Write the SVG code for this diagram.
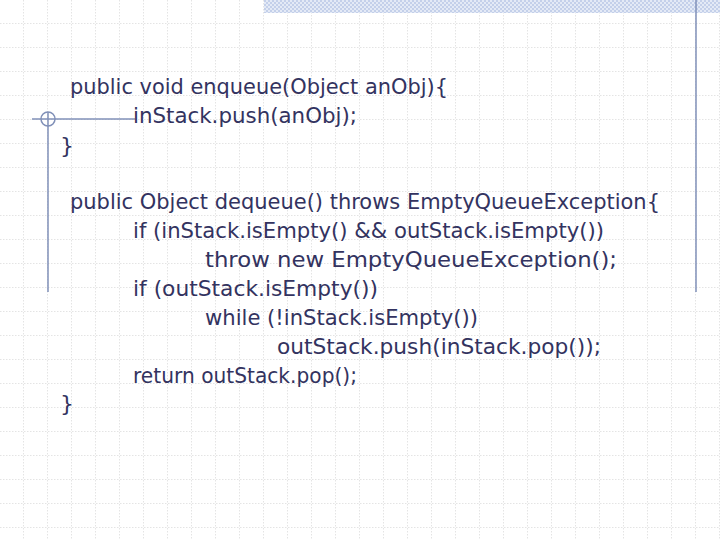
<svg xmlns="http://www.w3.org/2000/svg" width="720" height="540" viewBox="0 0 720 540">
<defs>
<pattern id="grid" width="24" height="24" patternUnits="userSpaceOnUse">
<path d="M24 0V24M0 24H24" fill="none" stroke="#c8c8c8" stroke-width="1" stroke-dasharray="1.5 1.5"/>
</pattern>
<pattern id="chk" width="4" height="4" patternUnits="userSpaceOnUse">
<rect width="4" height="4" fill="#e4eaf6"/>
<rect width="2" height="2" fill="#c4d0ea"/><rect x="2" y="2" width="2" height="2" fill="#c4d0ea"/>
</pattern>
<style>
text{font-family:"DejaVu Sans","Liberation Sans",sans-serif;font-size:22px;fill:#333360}
.deco{stroke:#8090b8;stroke-width:1.5;fill:none}
</style>
</defs>
<rect width="720" height="540" fill="#fff"/>
<rect width="720" height="540" fill="url(#grid)"/>
<rect x="264" y="0" width="456" height="13" fill="url(#chk)"/>
<g id="decor">
<line class="deco" x1="696" y1="0" x2="696" y2="292"/>
<line class="deco" x1="48" y1="112" x2="48" y2="292"/>
<line class="deco" x1="32" y1="119" x2="135" y2="119"/>
<circle class="deco" cx="48" cy="119" r="7"/>
</g>
<g id="code">
<text x="70" y="94" textLength="378" lengthAdjust="spacingAndGlyphs">public void enqueue(Object anObj){</text>
<text x="133" y="123" textLength="224" lengthAdjust="spacingAndGlyphs">inStack.push(anObj);</text>
<text x="60" y="153">}</text>
<text x="70" y="209" textLength="590" lengthAdjust="spacingAndGlyphs">public Object dequeue() throws EmptyQueueException{</text>
<text x="133" y="238" textLength="471" lengthAdjust="spacingAndGlyphs">if (inStack.isEmpty() &amp;&amp; outStack.isEmpty())</text>
<text x="205" y="267" textLength="412" lengthAdjust="spacingAndGlyphs">throw new EmptyQueueException();</text>
<text x="133" y="296" textLength="245" lengthAdjust="spacingAndGlyphs">if (outStack.isEmpty())</text>
<text x="205" y="325" textLength="273" lengthAdjust="spacingAndGlyphs">while (!inStack.isEmpty())</text>
<text x="277" y="354" textLength="324" lengthAdjust="spacingAndGlyphs">outStack.push(inStack.pop());</text>
<text x="133" y="383" textLength="224" lengthAdjust="spacingAndGlyphs">return outStack.pop();</text>
<text x="60" y="411">}</text>
</g>
</svg>
